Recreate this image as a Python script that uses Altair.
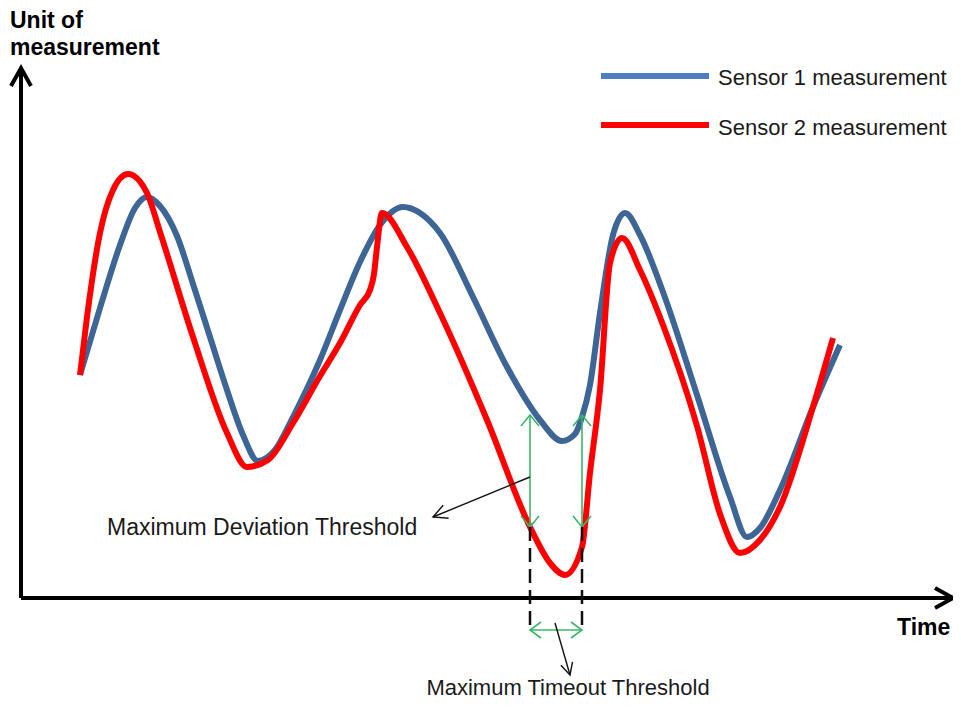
import altair as alt
import pandas as pd

s1_time = [59, 79, 99, 114, 126, 139, 156, 172, 189, 206, 222, 237, 254, 272, 299, 319, 339, 359, 382, 399,
           419, 452, 486, 519, 541, 554, 561, 569, 579, 592, 604, 619, 642, 676, 709, 726, 739, 759, 792, 819]
s1_value = [223, 290, 353, 390, 401, 392, 362, 314, 261, 208, 163, 137, 148, 181, 238, 288, 336, 373, 391, 385,
            365, 301, 231, 178, 157, 164, 181, 213, 285, 363, 385, 363, 306, 203, 101, 61, 70, 108, 191, 253]

s2_time = [59, 66, 79, 92, 107, 126, 139, 172, 206, 226, 247, 272, 299, 319, 339, 349, 353, 356, 361, 386, 419,
           466, 509, 529, 544, 561, 569, 579, 589, 601, 619, 642, 676, 699, 719, 739, 759, 792, 812]
s2_value = [223, 281, 365, 408, 424, 405, 366, 261, 165, 131, 138, 175, 222, 255, 293, 308, 324, 351, 385, 351, 285,
            178, 71, 35, 23, 51, 125, 208, 335, 360, 328, 273, 172, 84, 45, 58, 91, 191, 260]

series_names = ["Sensor 1 measurement", "Sensor 2 measurement"]
series_colors = ["#3D6596", "#FF0000"]
legend_colors = ["#4F7EC0", "#FF0000"]

# ---- Diagram annotation geometry (time, measurement) ----
seg_t = [0, 0, 509, 561, 509, 509, 561, 534, 509]
seg_v = [0, 0, 183, 183, -32, 71, 71, -25, 121]
seg_t2 = [0, 932, 509, 561, 561, 509, 561, 549, 412]
seg_v2 = [530, 0, 71, 71, -32, -29, -29, -77, 81]
seg_group = ["axis", "axis", "green", "green", "green", "dash", "dash", "black", "black"]

head_id = ["ya"] * 3 + ["xa"] * 3 + ["g1"] * 3 + ["g2"] * 3 + ["g3"] * 3 + ["g4"] * 3 + ["g5"] * 3 + ["g6"] * 3 + ["b1"] * 3 + ["b2"] * 3
head_t = [-10, 0, 10, 914, 932, 914,
          500, 509, 518, 500, 509, 518,
          552, 561, 570, 552, 561, 570,
          520, 509, 520, 550, 561, 550,
          551.5, 549, 539.9, 427.6, 412, 422.2]
head_v = [512, 530, 512, 10, 0, -10,
          172, 183, 172, 82, 71, 82,
          172, 183, 172, 82, 71, 82,
          -24, -32, -40, -24, -32, -40,
          -63.8, -77, -67.2, 79.8, 81, 92.8]
head_group = ["axis"] * 6 + ["green"] * 18 + ["black"] * 6

legend_t = [580, 580]
legend_t2 = [688, 688]
legend_v = [522, 473]
legend_text_t = [697, 697]
legend_text_v = [513, 463]

bold_labels = ["Unit of", "measurement", "Time"]
bold_t = [-11, -11, 876]
bold_v = [570, 543, -37]
note_labels = ["Maximum Deviation Threshold"]
note_t = [86]
note_v = [63]
center_labels = ["Maximum Timeout Threshold"]
center_t = [547]
center_v = [-97]

FONT = "Liberation Sans"
XS = alt.Scale(domain=[-13, 932], nice=False, zero=False)
YS = alt.Scale(domain=[-105, 590], nice=False, zero=False)


def X(f="t"):
    return alt.X(f, type="quantitative", scale=XS, axis=None)


def Y(f="v"):
    return alt.Y(f, type="quantitative", scale=YS, axis=None)


curves = pd.concat([
    pd.DataFrame({"t": s1_time, "v": s1_value, "series": series_names[0]}),
    pd.DataFrame({"t": s2_time, "v": s2_value, "series": series_names[1]}),
])
segs = pd.DataFrame({"t": seg_t, "v": seg_v, "t2": seg_t2, "v2": seg_v2, "group": seg_group})
heads = pd.DataFrame({"id": head_id, "t": head_t, "v": head_v, "group": head_group,
                      "o": list(range(len(head_t)))})

layers = []
for name, col in zip(series_names, series_colors):
    layers.append(
        alt.Chart(curves[curves.series == name]).mark_line(
            interpolate="monotone", strokeWidth=6, color=col, strokeCap="butt", strokeJoin="round"
        ).encode(x=X(), y=Y(), order="t:Q")
    )

styles = {
    "axis": dict(color="#000000", strokeWidth=4),
    "green": dict(color="#3DB56A", strokeWidth=1.6),
    "dash": dict(color="#111111", strokeWidth=2.5, strokeDash=[14, 7]),
    "black": dict(color="#111111", strokeWidth=1.4),
}
for g, st in styles.items():
    d = segs[segs.group == g]
    if len(d):
        layers.append(
            alt.Chart(d).mark_rule(**st).encode(
                x=X(), y=Y(), x2="t2:Q", y2="v2:Q"
            )
        )
    h = heads[heads.group == g]
    if len(h):
        layers.append(
            alt.Chart(h).mark_line(strokeJoin="miter", **st).encode(
                x=X(), y=Y(), detail="id:N", order="o:Q"
            )
        )

leg = pd.DataFrame({"t": legend_t, "t2": legend_t2, "v": legend_v, "color": legend_colors,
                    "label": series_names, "lt": legend_text_t, "lv": legend_text_v})
layers.append(
    alt.Chart(leg).mark_rule(strokeWidth=6).encode(
        x=X(), x2="t2:Q", y=Y(), color=alt.Color("color:N", scale=None)
    )
)
layers.append(
    alt.Chart(leg).mark_text(font=FONT, fontSize=22, align="left", baseline="alphabetic", color="#1a1a1a").encode(
        x=X("lt"), y=Y("lv"), text="label:N"
    )
)

layers.append(
    alt.Chart(pd.DataFrame({"label": bold_labels, "t": bold_t, "v": bold_v})).mark_text(
        font=FONT, fontSize=23, fontWeight="bold", align="left", baseline="alphabetic", color="#000000"
    ).encode(x=X(), y=Y(), text="label:N")
)
layers.append(
    alt.Chart(pd.DataFrame({"label": note_labels, "t": note_t, "v": note_v})).mark_text(
        font=FONT, fontSize=23, align="left", baseline="alphabetic", color="#1a1a1a"
    ).encode(x=X(), y=Y(), text="label:N")
)
layers.append(
    alt.Chart(pd.DataFrame({"label": center_labels, "t": center_t, "v": center_v})).mark_text(
        font=FONT, fontSize=22, align="center", baseline="alphabetic", color="#1a1a1a"
    ).encode(x=X(), y=Y(), text="label:N")
)

chart = alt.layer(*layers).properties(
    width=945, height=695, padding=0,
    autosize=alt.AutoSizeParams(type="none"),
    background="#ffffff",
).configure_view(stroke=None)

chart.save("out.html", embed_options={"renderer": "svg", "actions": False})
